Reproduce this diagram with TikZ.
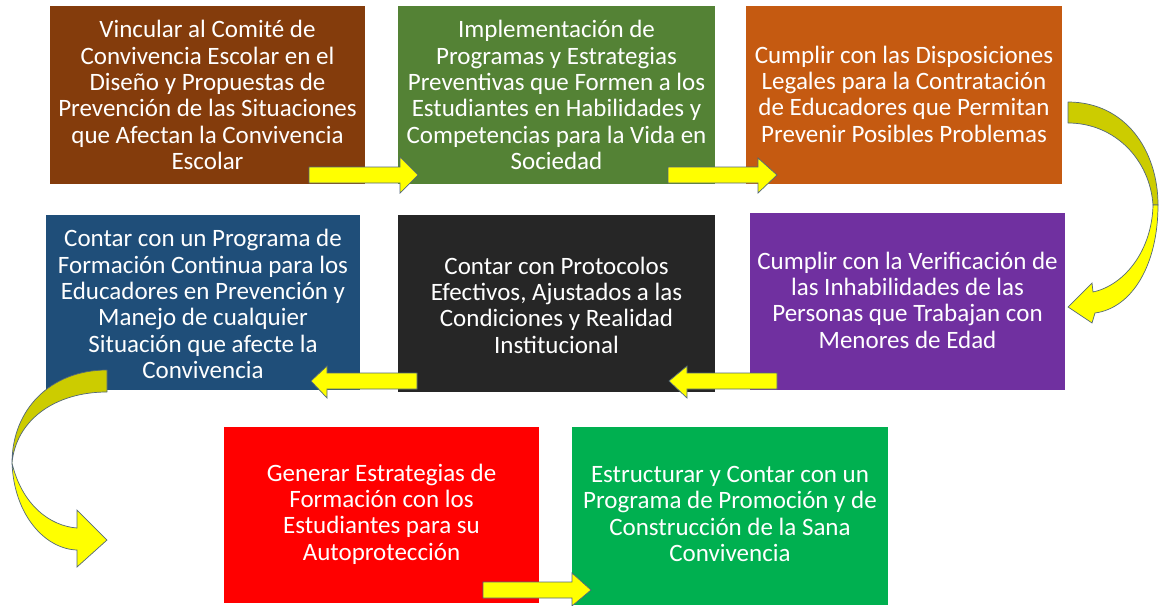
\documentclass[tikz,border=0pt]{standalone}
\usepackage{fontspec}
\setmainfont{Carlito}
\definecolor{cBrown}{HTML}{843C0C}
\definecolor{cGreenA}{HTML}{548235}
\definecolor{cOrange}{HTML}{C55A11}
\definecolor{cBlue}{HTML}{1F4E79}
\definecolor{cBlack}{HTML}{262626}
\definecolor{cPurple}{HTML}{7030A0}
\definecolor{cRed}{HTML}{FF0000}
\definecolor{cGreenB}{HTML}{00B050}
\definecolor{arrYellow}{HTML}{FFFF00}
\definecolor{arrDark}{HTML}{CCCC00}
\definecolor{arrEdge}{HTML}{53687A}
\begin{document}
\begin{tikzpicture}[x=1pt,y=-1pt,
  box/.style={rectangle, inner sep=0pt, align=center, text=white,
    font=\fontsize{25}{26.3}\selectfont},
  blockarrow/.style={fill=arrYellow, draw=arrEdge, line width=0.7pt, line join=miter},
  blockarrowdark/.style={fill=arrDark, draw=arrEdge, line width=0.7pt, line join=round}
]
\clip (0,0) rectangle (1159,605);
\fill[white] (0,0) rectangle (1159,605);

% boxes
\fill[cBrown]  (50,6)   rectangle (365,184);
\fill[cGreenA] (398,6)  rectangle (715,184);
\fill[cOrange] (746,6)  rectangle (1062,184);
\fill[cBlue]   (46,215) rectangle (360,390);
\fill[cBlack]  (398,215) rectangle (715,392);
\fill[cPurple] (750,213) rectangle (1065,390);
\fill[cRed]    (224,427) rectangle (539,603);
\fill[cGreenB] (572,427) rectangle (888,605);

\node[box] (b1) at (207.5,95) {Vincular al Comité de\\Convivencia Escolar en el\\Diseño y Propuestas de\\Prevención de las Situaciones\\que Afectan la Convivencia\\Escolar};
\node[box] (b2) at (556.5,95) {Implementación de\\Programas y Estrategias\\Preventivas que Formen a los\\Estudiantes en Habilidades y\\Competencias para la Vida en\\Sociedad};
\node[box] (b3) at (904,94) {Cumplir con las Disposiciones\\Legales para la Contratación\\de Educadores que Permitan\\Prevenir Posibles Problemas};
\node[box] (b4) at (203,304) {Contar con un Programa de\\Formación Continua para los\\Educadores en Prevención y\\Manejo de cualquier\\Situación que afecte la\\Convivencia};
\node[box] (b5) at (556.5,305) {Contar con Protocolos\\Efectivos, Ajustados a las\\Condiciones y Realidad\\Institucional};
\node[box] (b6) at (907.5,300) {Cumplir con la Verificación de\\las Inhabilidades de las\\Personas que Trabajan con\\Menores de Edad};
\node[box] (b7) at (381.5,514) {Generar Estrategias de\\Formación con los\\Estudiantes para su\\Autoprotección};
\node[box] (b8) at (730,514) {Estructurar y Contar con un\\Programa de Promoción y de\\Construcción de la Sana\\Convivencia};

% straight block arrows
\draw[blockarrow] (309,167) -- (400,167) -- (400,157) -- (418,175) -- (400,193) -- (400,183) -- (309,183) -- cycle;
\draw[blockarrow] (668,167) -- (758,167) -- (758,158) -- (777,175) -- (758,193) -- (758,183) -- (668,183) -- cycle;
\draw[blockarrow] (417,373) -- (327,373) -- (327,366) -- (311,381) -- (327,398) -- (327,389) -- (417,389) -- cycle;
\draw[blockarrow] (777,373) -- (687,373) -- (687,366) -- (669,381) -- (687,398) -- (687,389) -- (777,389) -- cycle;
\draw[blockarrow] (483,582) -- (572,582) -- (572,573) -- (591,590) -- (572,606) -- (572,598) -- (483,598) -- cycle;

% right curved arrow (orange -> purple)
\draw[blockarrowdark] (1068,102) .. controls (1125,102) and (1158,150) .. (1158,205)
   -- (1153,205) .. controls (1150,160) and (1115,123) .. (1068,123) -- cycle;
\draw[blockarrow] (1158,205) .. controls (1158,265) and (1132,308) .. (1095,313)
   -- (1092,323) -- (1068,307) -- (1092,283) -- (1093,292)
   .. controls (1125,285) and (1152,250) .. (1153,205) -- cycle;

% left curved arrow (blue -> red row)
\draw[blockarrowdark] (107,370) .. controls (50,370) and (12,410) .. (12,463)
   .. controls (16,420) and (55,392) .. (107,392) -- cycle;
\draw[blockarrow] (12,463) .. controls (14,515) and (45,549) .. (77,550)
   -- (77,567) -- (107,540) -- (77,510) -- (77,528)
   .. controls (50,526) and (22,505) .. (12,463) -- cycle;
\end{tikzpicture}
\end{document}
